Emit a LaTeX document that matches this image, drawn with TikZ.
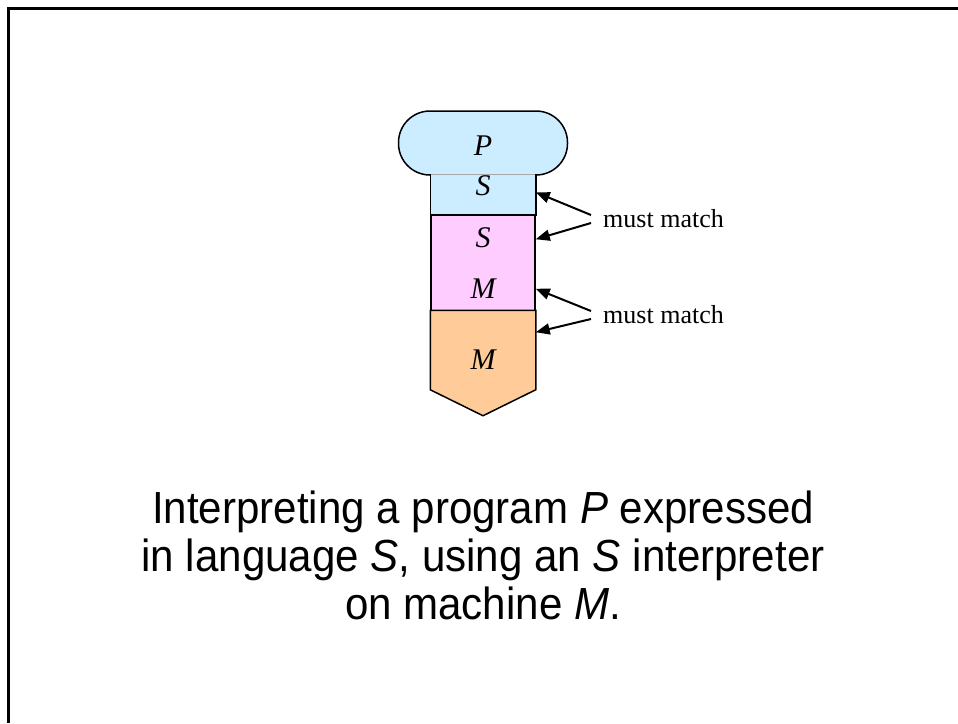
\documentclass[tikz,border=0pt]{standalone}
\usepackage{fontspec}
\setmainfont{Liberation Serif}
\newfontfamily\capfont[FakeStretch=0.935]{Liberation Sans}
\usetikzlibrary{arrows.meta}
\definecolor{tdBlue}{HTML}{CCECFF}
\definecolor{tdPink}{HTML}{FFCCFF}
\definecolor{tdOrange}{HTML}{FFCC99}

\begin{document}
\begin{tikzpicture}[x=1pt, y=-1pt,
  lbl/.style={font=\fontsize{30}{30}\selectfont\itshape, inner sep=0pt},
  blk/.style={line width=1.5pt, minimum width=104pt, inner sep=0pt, anchor=center},
  mm/.style={font=\fontsize{26}{26}\selectfont, anchor=west, inner sep=0pt},
  ptr/.style={-{Triangle[length=14pt,width=11pt]}, line width=2pt},
]
  \useasboundingbox (0,0) rectangle (958,723);
  \draw[line width=2.7pt] (8.7,723) -- (8.7,8.7) -- (958,8.7);
  % the tombstone: program P in S, S interpreter on M, machine M
  \node[draw, line width=1.5pt, fill=tdBlue, rounded corners=31.5pt,
        minimum width=169pt, minimum height=64pt, inner sep=0pt] (p) at (483,143) {};
  \node[lbl] at (483,146) {P};
  \node[blk, fill=tdBlue, minimum height=40pt] (s) at (483,195) {};
  \draw[black!35, line width=1pt] (s.north west) -- (s.north east);
  \draw[line width=1.5pt] (s.north west) -- (s.south west) (s.north east) -- (s.south east);
  \node[lbl] at (483,186) {S};
  \node[blk, draw, fill=tdPink, minimum height=96pt] (i) at (483,263) {};
  \node[lbl] at (483,238) {S};
  \node[lbl] at (483,289) {M};
  \node[blk, minimum height=78pt] (m) at (483,350) {};
  \filldraw[fill=tdOrange, line width=1.5pt, line join=miter]
    (m.north west) -- (m.north east) -- (m.south east) -- ([yshift=-26pt]m.south)
    -- (m.south west) -- cycle;
  \node[lbl] at (483,360) {M};
  % must match
  \node[mm] (u1) at (603,219) {must match};
  \node[mm] (u2) at (603,315) {must match};
  \coordinate (t1) at ([yshift=-18pt]s.north east);
  \coordinate (t2) at ([yshift=-25pt]i.north east);
  \coordinate (t3) at ([yshift=23pt]i.south east);
  \coordinate (t4) at ([yshift=-22pt]m.north east);
  \draw[ptr] ([xshift=-12pt,yshift=4pt]u1.west) -- (t1);
  \draw[ptr] ([xshift=-12pt,yshift=-4pt]u1.west) -- (t2);
  \draw[ptr] ([xshift=-12pt,yshift=4pt]u2.west) -- (t3);
  \draw[ptr] ([xshift=-12pt,yshift=-4pt]u2.west) -- (t4);
  % caption
  \node[font=\capfont\fontsize{45}{48}\selectfont, align=center, inner sep=0pt] (cap) at (483,555)
    {Interpreting a program \textit{P} expressed\\
     in language \textit{S}, using an \textit{S} interpreter\\
     on machine \textit{M}.};
\end{tikzpicture}
\end{document}
